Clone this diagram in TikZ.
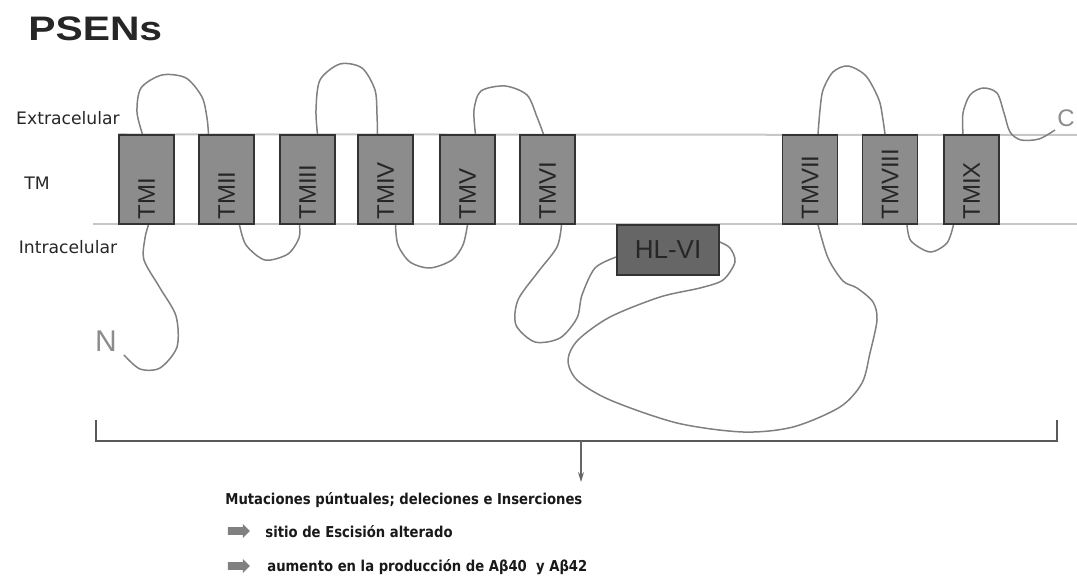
\documentclass[tikz,border=0pt]{standalone}
\usepackage{fontspec}
\setmainfont{Liberation Sans}
\newfontfamily\sidefont{DejaVu Sans}
\newfontfamily\notefont{DejaVu Sans}[FakeStretch=0.88]
\newfontfamily\titlefont{Liberation Sans}[FakeStretch=1.2]
\usetikzlibrary{backgrounds,shapes.arrows,arrows.meta}

\tikzset{
  tmbox/.style={draw=black!80, line width=0.75pt, fill=black!45,
    minimum width=27.5pt, minimum height=44.5pt, inner sep=0pt},
  tmlabel/.style={rotate=90, anchor=west, inner sep=0pt, text=black!85,
    font=\fontsize{12}{12}\selectfont},
  hlbox/.style={draw=black!80, line width=0.75pt, fill=black!60,
    minimum width=51pt, minimum height=25pt, inner sep=0pt, text=black!85,
    font=\fontsize{13}{13}\selectfont},
  membrane/.style={black!22, line width=1pt},
  chain/.style={black!50, line width=0.75pt},
  sidelabel/.style={text=black!85, font=\sidefont\fontsize{8.6}{9}\selectfont},
  endlabel/.style={text=black!45},
  bracket/.style={black!65, line width=0.8pt},
  bullet/.style={single arrow, draw=none, fill=black!50, minimum height=11pt,
    single arrow head extend=1.6pt, inner sep=1.7pt},
  note/.style={anchor=west, inner sep=0pt, text=black!90,
    font=\notefont\bfseries\fontsize{7.5}{8}\selectfont}
}

\begin{document}
\begin{tikzpicture}[x=0.5pt,y=-0.5pt]
  \useasboundingbox (0,0) rectangle (1077,576);

  % Title and side labels
  \node[anchor=west, inner sep=0pt, text=black!85,
    font=\titlefont\bfseries\fontsize{17}{17}\selectfont] (title) at (28,29) {PSENs};
  \node[sidelabel] (extra) at (68,118) {Extracelular};
  \node[sidelabel] (tm) at (37,183) {TM};
  \node[sidelabel] (intra) at (68,247) {Intracelular};

  % Transmembrane segments
  \node[tmbox] (tm1) at (146.5,179.5) {};
  \node[tmbox] (tm2) at (226.5,179.5) {};
  \node[tmbox] (tm3) at (307.5,179.5) {};
  \node[tmbox] (tm4) at (385.5,179.5) {};
  \node[tmbox] (tm5) at (467.5,179.5) {};
  \node[tmbox] (tm6) at (547.5,179.5) {};
  \node[tmbox] (tm7) at (810,179.5) {};
  \node[tmbox] (tm8) at (890,179.5) {};
  \node[tmbox] (tm9) at (971.5,179.5) {};
  \node[tmlabel] (tm1l) at ([yshift=2.5pt]tm1.south) {TMI};
  \node[tmlabel] (tm2l) at ([yshift=2.5pt]tm2.south) {TMII};
  \node[tmlabel] (tm3l) at ([yshift=2.5pt]tm3.south) {TMIII};
  \node[tmlabel] (tm4l) at ([yshift=2.5pt]tm4.south) {TMIV};
  \node[tmlabel] (tm5l) at ([yshift=2.5pt]tm5.south) {TMV};
  \node[tmlabel] (tm6l) at ([yshift=2.5pt]tm6.south) {TMVI};
  \node[tmlabel] (tm7l) at ([yshift=2.5pt]tm7.south) {TMVII};
  \node[tmlabel] (tm8l) at ([yshift=2.5pt]tm8.south) {TMVIII};
  \node[tmlabel] (tm9l) at ([yshift=2.5pt]tm9.south) {TMIX};

  % Hydrophilic loop
  \node[hlbox] (hl) at (668,250) {HL-VI};

  % Ends
  \node[endlabel, font=\fontsize{15}{15}\selectfont] (nterm) at (106,341) {N};
  \node[endlabel, font=\fontsize{12}{12}\selectfont] (cterm) at (1066,118) {C};
  \coordinate (nend) at (124,355);
  \coordinate (cend) at (1055,130);

  \begin{scope}[on background layer]
    % Membrane
    \draw[membrane] (tm1.north west) -- (1077,135);
    \draw[membrane] (93,224) -- (1077,224);

    % Chain
    \draw[chain] plot[smooth] coordinates {(nend) (140,369) (160,368) (177,347)
      (176,316) (160,288) (144,260) (145,238) ([xshift=1pt]tm1.south)};
    \draw[chain] plot[smooth] coordinates {([xshift=-2pt]tm1.north) (137,112)
      (141,88) (162,75) (186,78) (202,97) (207,118) ([xshift=-9pt]tm2.north)};
    \draw[chain] plot[smooth] coordinates {([xshift=6.5pt]tm2.south) (246,245)
      (265,260) (288,254) (299,238) ([xshift=-4pt]tm3.south)};
    \draw[chain] plot[smooth] coordinates {([xshift=5pt]tm3.north) (316,110)
      (320,80) (340,64) (362,68) (375,90) (377,115) ([xshift=-4pt]tm4.north)};
    \draw[chain] plot[smooth] coordinates {([xshift=5pt]tm4.south) (398,245)
      (410,262) (430,268) (452,260) (463,245) (tm5.south)};
    \draw[chain] plot[smooth] coordinates {([xshift=4pt]tm5.north) (474,110)
      (481,91) (505,86) (527,95) (537,117) ([xshift=-2pt]tm6.north)};
    \draw[chain] plot[smooth] coordinates {([xshift=7pt]tm6.south) (557,247)
      (538,272) (518,300) (516,325) (535,342) (560,338) (577,318) (582,295)
      (595,268) ([yshift=-3.5pt]hl.west)};
    \draw[chain] plot[smooth] coordinates {([yshift=4pt]hl.east) (730,248)
      (735,262) (723,280) (700,288) (660,297) (610,317) (578,340) (568,360)
      (577,380) (610,400) (677,423) (743,432) (793,427) (840,407) (862,383)
      (870,353) (877,320) (873,302) (857,288) (843,281) (828,258)
      ([xshift=4pt]tm7.south)};
    \draw[chain] plot[smooth] coordinates {([xshift=4pt]tm7.north) (820,110)
      (823,90) (833,72) (848,66) (866,76) (879,100) (883,120)
      ([xshift=-2.5pt]tm8.north)};
    \draw[chain] plot[smooth] coordinates {([xshift=8.5pt]tm8.south) (911,241)
      (930,252) (947,243) ([xshift=-9pt]tm9.south)};
    \draw[chain] plot[smooth] coordinates {([xshift=-4.25pt]tm9.north) (963,113)
      (970,95) (983,88) (997,93) (1004,113) (1010,132) (1021,140) (1039,139)
      (cend)};
  \end{scope}

  % Bracket and arrow
  \coordinate (brl) at (96,420);
  \coordinate (brr) at (1057,420);
  \coordinate (brm) at (581,441);
  \coordinate (arrend) at (581,482);
  \draw[bracket] (brl) -- (96,441) -- (1057,441) -- (brr);
  \draw[black!60, line width=0.6pt, -{Stealth[length=5pt,width=3pt]}] (brm) -- (arrend);

  % Notes
  \node[note] (mut) at (225,500) {Mutaciones púntuales; deleciones e Inserciones};
  \node[bullet] (b1) at (237,531) {};
  \node[bullet] (b2) at (237,566) {};
  \node[note] (sitio) at (265,532) {sitio de Escisión alterado};
  \node[note] (aum) at (267,567) {aumento en la producción de Aβ40\ \ y Aβ42};
\end{tikzpicture}
\end{document}
